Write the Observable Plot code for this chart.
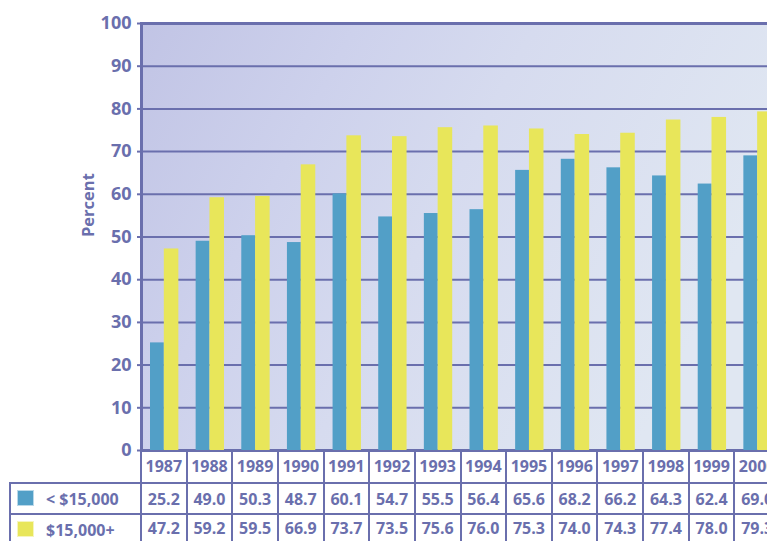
<!DOCTYPE html>
<html>
<head>
<meta charset="utf-8">
<script src="https://cdn.jsdelivr.net/npm/d3@7"></script>
<script src="https://cdn.jsdelivr.net/npm/@observablehq/plot@0.6"></script>
<style>
  html, body { margin: 0; padding: 0; background: #fff; overflow: hidden; }
  #wrap { position: relative; width: 767px; height: 541px; overflow: hidden; }
  #inner { position: absolute; left: 0; top: 0; width: 820px; height: 560px; }
  .cell { position: absolute; display: flex; align-items: center; justify-content: center;
          font-family: 'Open Sans', sans-serif; font-weight: bold; font-size: 16px; color: #6a6fad; white-space: nowrap; }
  .line { position: absolute; background: #6a6fad; }
</style>
</head>
<body>
<div id="wrap"><div id="inner"></div></div>
<script>
const years = [1987, 1988, 1989, 1990, 1991, 1992, 1993, 1994, 1995, 1996, 1997, 1998, 1999, 2000];
const under15k = [25.2, 49.0, 50.3, 48.7, 60.1, 54.7, 55.5, 56.4, 65.6, 68.2, 66.2, 64.3, 62.4, 69.0];
const over15k = [47.2, 59.2, 59.5, 66.9, 73.7, 73.5, 75.6, 76.0, 75.3, 74.0, 74.3, 77.4, 78.0, 79.3];
const yTicks = [0, 10, 20, 30, 40, 50, 60, 70, 80, 90, 100];
const seriesLabels = ["< $15,000", "$15,000+"];
const yLabel = "Percent";

const ink = "#6a6fad";
const blue = "#529fc7";
const yellow = "#e8e65a";

const rows = years.map((year, i) => ({year, low: under15k[i], high: over15k[i]}));

const chart = Plot.plot({
  width: 780,
  height: 452,
  marginLeft: 141,
  marginRight: 0,
  marginTop: 23,
  marginBottom: 2,
  style: {fontFamily: "'Open Sans', sans-serif", color: ink, background: "transparent", maxWidth: "none", overflow: "visible"},
  x: {type: "band", domain: years, padding: 0, round: false, axis: null},
  y: {domain: [0, 100], axis: null},
  marks: [
    Plot.frame({fill: "url(#bgGrad)", stroke: "none"}),
    Plot.gridY(yTicks.filter(t => t > 0 && t < 100), {stroke: ink, strokeOpacity: 1, strokeWidth: 2}),
    Plot.ruleY([0, 100], {stroke: ink, strokeWidth: 3}),
    Plot.barY(rows, {x: "year", y: "low", fill: blue, insetLeft: 9, insetRight: 22.8}),
    Plot.barY(rows, {x: "year", y: "high", fill: yellow, insetLeft: 22.8, insetRight: 8.3}),
    Plot.axisY({ticks: yTicks, tickSize: 4, tickPadding: 6, fontSize: 18, fontWeight: "bold", label: null, strokeWidth: 2, stroke: ink, fill: ink}),
    Plot.frame({anchor: "left", stroke: ink, strokeWidth: 3}),
    Plot.text([yLabel], {frameAnchor: "left", rotate: -90, dx: -53, fontSize: 16.5, fontWeight: "bold", fill: ink})
  ]
});

d3.select(chart).insert("defs", ":first-child").html(`
  <linearGradient id="bgGrad" x1="0" y1="0" x2="1" y2="0.35">
    <stop offset="0" stop-color="#c1c4e5"/>
    <stop offset="0.3" stop-color="#cdd1ec"/>
    <stop offset="0.55" stop-color="#d6dbef"/>
    <stop offset="1" stop-color="#e0e7f2"/>
  </linearGradient>`);

const inner = document.getElementById("inner");
chart.style.position = "absolute";
chart.style.left = "0px";
chart.style.top = "0px";
inner.appendChild(chart);

// Data table below the chart, aligned to the chart's x scale
const xs = chart.scale("x");
const bw = xs.bandwidth;
const yTop = 450, yRow1 = 483, yRow2 = 514, yEnd = 545;
function div(cls, css, text) {
  const d = document.createElement("div");
  d.className = cls;
  Object.assign(d.style, css);
  if (text != null) d.textContent = text;
  inner.appendChild(d);
  return d;
}
const edges = years.map(y => xs.apply(y)).concat([xs.apply(years[years.length - 1]) + bw]);
edges.forEach(x => div("line", {left: (x - 1) + "px", top: yTop + "px", width: "2px", height: (yEnd - yTop) + "px"}));
[yRow1, yRow2].forEach(y => div("line", {left: "9px", top: (y - 1) + "px", width: "800px", height: "2px"}));
div("line", {left: "9px", top: (yRow1 - 1) + "px", width: "2px", height: (yEnd - yRow1) + "px"});

years.forEach((yr, i) => {
  const x = xs.apply(yr);
  div("cell", {left: x + "px", top: yTop + "px", width: bw + "px", height: (yRow1 - yTop - 2) + "px"}, String(yr));
  div("cell", {left: x + "px", top: yRow1 + "px", width: bw + "px", height: (yRow2 - yRow1) + "px"}, under15k[i].toFixed(1));
  div("cell", {left: x + "px", top: yRow2 + "px", width: bw + "px", height: (yEnd - yRow2 - 4) + "px"}, over15k[i].toFixed(1));
});

// Legend swatches and labels in the left column
[[blue, yRow1, seriesLabels[0]], [yellow, yRow2, seriesLabels[1]]].forEach(([c, y0, label]) => {
  div("line", {left: "17px", top: (y0 + 7) + "px", width: "17px", height: "16px", background: c, boxShadow: "0 0 0 1px rgba(255,255,255,0.6) inset"});
  div("cell", {left: "46px", top: y0 + "px", height: "31px", justifyContent: "flex-start"}, label);
});
</script>
</body>
</html>
